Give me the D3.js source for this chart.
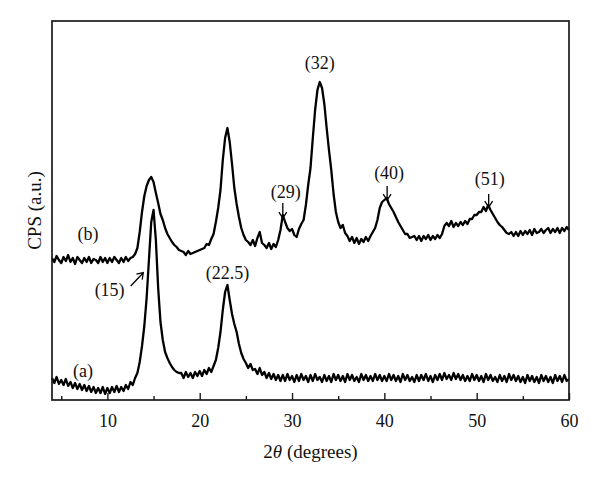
<!DOCTYPE html>
<html>
<head>
<meta charset="utf-8">
<script src="https://cdn.jsdelivr.net/npm/d3@7"></script>
<style>
  html, body { margin: 0; padding: 0; background: #fff; }
  svg { display: block; }
  text { font-family: "Liberation Serif", "Times New Roman", serif; fill: #111; }
</style>
</head>
<body>
<svg id="chart" width="600" height="483"></svg>
<script>
// ---- data ----
const angleStart = 4;      // first 2θ sample (degrees)
const angleStep = 0.25;    // sampling step (degrees)

// sample (b): one row per degree, 4 samples each (4.00 .. 59.75), then 60.00
const seriesB = [
  142,138,144,140, 137,143,139,145, 138,142,136,143, 140,137,142,138,
  143,137,141,140, 137,143,138,142, 137,142,138,143, 140,137,142,138,
  143,139,142,143, 146,152,168,188, 204,214,220,223, 218,207,197,186,
  180,172,166,162, 158,155,153,150, 149,148,145,149, 146,147,148,149,
  150,151,152,156, 155,161,166,178, 192,210,240,262, 272,258,236,212,
  196,183,172,165, 160,158,155,160, 154,162,168,157, 155,152,157,151,
  156,153,160,170, 185,178,172,169, 171,165,163,171, 176,180,195,215,
  232,262,290,310, 318,312,296,272, 250,230,206,188, 178,172,175,167,
  164,159,163,157, 162,156,161,158, 163,159,164,168, 172,180,192,198,
  200,202,196,192, 188,183,178,174, 170,166,166,162, 163,164,160,164,
  159,164,161,165, 160,164,161,165, 162,166,174,177, 174,179,173,177,
  174,178,175,179, 176,181,181,185, 185,188,188,193, 189,195,190,186,
  182,178,175,173, 170,167,166,168, 164,168,164,169, 165,169,166,170,
  165,171,167,168, 171,167,170,172, 167,171,168,172, 167,172,169,173,
  170
];

// sample (a)
const seriesA = [
  22,17,23,16, 20,15,21,14, 18,12,17,11, 16,10,15,9,
  14,8,13,7, 12,7,13,6, 12,7,13,8, 14,8,13,9,
  15,11,18,15, 22,27,38,54, 74,102,140,178, 190,160,112,78,
  60,48,42,37, 33,30,28,27, 27,22,28,23, 27,22,28,24,
  29,24,30,26, 32,28,34,40, 52,68,90,108, 115,100,86,76,
  68,56,47,41, 37,32,36,30, 31,26,32,25, 28,22,27,21,
  26,20,25,19, 25,19,26,20, 24,18,25,19, 26,20,24,18,
  25,19,26,20, 23,18,25,19, 24,18,26,20, 25,19,24,18,
  26,20,25,19, 23,18,26,20, 25,19,24,19, 26,20,25,19,
  24,19,26,20, 25,19,24,18, 26,20,25,19, 23,18,25,19,
  25,20,26,19, 24,18,25,20, 26,20,27,21, 25,20,27,21,
  26,20,25,19, 24,19,26,20, 25,19,24,18, 26,20,25,19,
  23,18,25,19, 24,18,26,20, 25,19,24,18, 23,17,25,19,
  24,18,23,17, 25,19,24,18, 23,17,25,19, 24,18,25,19,
  21
];

const xTicksMajor = [10, 20, 30, 40, 50, 60];
const xTicksMinor = [5, 15, 25, 35, 45, 55];

// peak annotations: label, 2θ of arrow
const peakLabels = ["(15)", "(22.5)", "(29)", "(32)", "(40)", "(51)"];
const peakAngles = [14.9, 23.0, 29.0, 33.0, 40.3, 51.3];
const seriesLabels = ["(a)", "(b)"];

// ---- layout ----
const margin = { left: 52, right: 31, top: 21, bottom: 83 };
const W = 600, H = 483;
const svg = d3.select("#chart");

const x = d3.scaleLinear().domain([4, 60]).range([margin.left, W - margin.right]);
const y = d3.scaleLinear().domain([0, 380]).range([H - margin.bottom, H - margin.bottom - 380]);

const toPts = arr => arr.map((v, i) => [angleStart + i * angleStep, v]);
const line = d3.line().x(d => x(d[0])).y(d => y(d[1]));

const g = svg.append("g");

// curves
[seriesA, seriesB].forEach(s => {
  g.append("path")
    .attr("d", line(toPts(s)))
    .attr("fill", "none")
    .attr("stroke", "#000")
    .attr("stroke-width", 2.3)
    .attr("stroke-linejoin", "round");
});

// frame
const x0 = x.range()[0], x1 = x.range()[1], yb = y(0), yt = margin.top;
svg.append("rect")
  .attr("x", x0).attr("y", yt)
  .attr("width", x1 - x0).attr("height", yb - yt)
  .attr("fill", "none").attr("stroke", "#1a1a1a").attr("stroke-width", 1.7);

// x axis (ticks inward)
const axis = svg.append("g").attr("transform", `translate(0,${yb})`)
  .call(d3.axisBottom(x).tickValues(xTicksMajor).tickSize(-7).tickPadding(14).tickFormat(d3.format("d")));
axis.select(".domain").remove();
axis.selectAll(".tick line").attr("stroke", "#1a1a1a").attr("stroke-width", 1.4);
axis.selectAll(".tick text").style("font-size", "18px").style("font-family", '"Liberation Serif", serif').attr("fill", "#111");
const axisMinor = svg.append("g").attr("transform", `translate(0,${yb})`)
  .call(d3.axisBottom(x).tickValues(xTicksMinor).tickSize(-4).tickFormat(""));
axisMinor.select(".domain").remove();
axisMinor.selectAll(".tick line").attr("stroke", "#1a1a1a").attr("stroke-width", 1.4);

// axis titles
const xt = svg.append("text")
  .attr("x", (x0 + x1) / 2).attr("y", 458)
  .attr("text-anchor", "middle").style("font-size", "19px");
xt.append("tspan").text("2");
xt.append("tspan").attr("font-style", "italic").text("θ");
xt.append("tspan").text(" (degrees)");

svg.append("text")
  .attr("transform", `translate(41,${(yt + yb) / 2}) rotate(-90)`)
  .attr("text-anchor", "middle").style("font-size", "19px")
  .text("CPS (a.u.)");

// series labels
svg.append("text").attr("x", 83).attr("y", 377).attr("text-anchor", "middle").style("font-size", "18px").text(seriesLabels[0]);
svg.append("text").attr("x", 88).attr("y", 240).attr("text-anchor", "middle").style("font-size", "18px").text(seriesLabels[1]);

// peak labels
const ann = [
  { i: 0, tx: -43, ty: 296, arrow: [[130.7, 286], [143.3, 272.7]] },
  { i: 1, tx: 0, ty: 279 },
  { i: 2, tx: 3, ty: 198, arrow: [[0, 203], [0, 218]] },
  { i: 3, tx: 0, ty: 69 },
  { i: 4, tx: 2, ty: 179, arrow: [[0, 186], [0, 200]] },
  { i: 5, tx: 1, ty: 185, arrow: [[0, 194], [0, 207]] }
];
ann.forEach(a => {
  const px = x(peakAngles[a.i]);
  svg.append("text").attr("x", px + a.tx).attr("y", a.ty)
    .attr("text-anchor", "middle").style("font-size", "18px").text(peakLabels[a.i]);
  if (a.arrow) {
    let p0, p1;
    if (a.i === 0) { p0 = a.arrow[0]; p1 = a.arrow[1]; }
    else { p0 = [px, a.arrow[0][1]]; p1 = [px, a.arrow[1][1]]; }
    const ang = Math.atan2(p1[1] - p0[1], p1[0] - p0[0]);
    const hl = 7, hw = 0.6;
    const h1 = [p1[0] - hl * Math.cos(ang - hw), p1[1] - hl * Math.sin(ang - hw)];
    const h2 = [p1[0] - hl * Math.cos(ang + hw), p1[1] - hl * Math.sin(ang + hw)];
    svg.append("path")
      .attr("d", `M${p0[0]},${p0[1]}L${p1[0]},${p1[1]}M${h1[0]},${h1[1]}L${p1[0]},${p1[1]}L${h2[0]},${h2[1]}`)
      .attr("fill", "none").attr("stroke", "#000").attr("stroke-width", 1.3);
  }
});
</script>
</body>
</html>
